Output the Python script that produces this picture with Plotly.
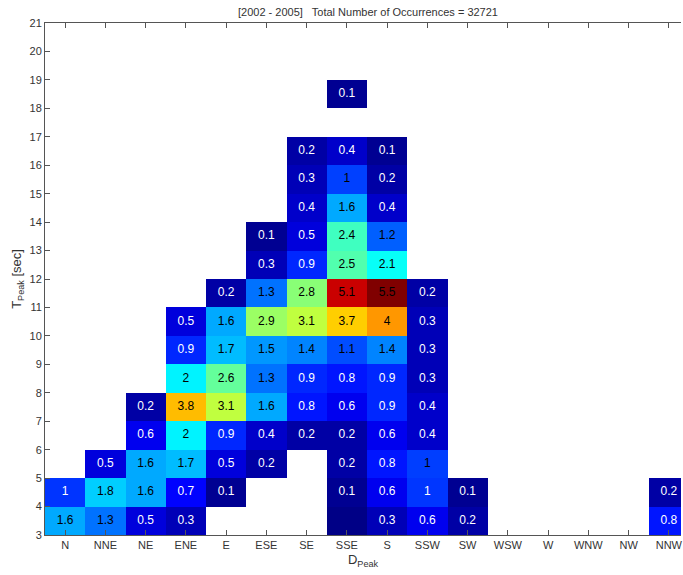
import plotly.graph_objects as go

directions = ["N", "NNE", "NE", "ENE", "E", "ESE", "SE", "SSE",
              "S", "SSW", "SW", "WSW", "W", "WNW", "NW", "NNW"]
t_bins = list(range(3, 21))  # lower edge of each T_Peak bin [sec]
y_ticks = list(range(3, 22))

_ = None
# percentage of occurrences, rows = T_Peak bins (3..20), columns = directions
pct = [
    [1.6, 1.3, 0.5, 0.3, _,   _,   _,   0.03, 0.3, 0.6,  0.2, _, _, _, _, 0.8],  # 3
    [0.97, 1.8, 1.6, 0.7, 0.1, _,  _,   0.1, 0.6, 0.98, 0.1, _, _, _, _, 0.2],  # 4
    [_,   0.5, 1.6, 1.7, 0.5, 0.2, _,   0.2, 0.8, 1.02, _,   _, _, _, _, _],    # 5
    [_,   _,   0.6, 2.0, 0.9, 0.4, 0.2, 0.2, 0.6, 0.4,  _,   _, _, _, _, _],    # 6
    [_,   _,   0.2, 3.8, 3.1, 1.6, 0.8, 0.6, 0.9, 0.4,  _,   _, _, _, _, _],    # 7
    [_,   _,   _,   2.0, 2.6, 1.3, 0.9, 0.8, 0.9, 0.3,  _,   _, _, _, _, _],    # 8
    [_,   _,   _,   0.9, 1.7, 1.5, 1.4, 1.1, 1.4, 0.3,  _,   _, _, _, _, _],    # 9
    [_,   _,   _,   0.5, 1.6, 2.9, 3.1, 3.7, 4.0, 0.3,  _,   _, _, _, _, _],    # 10
    [_,   _,   _,   _,   0.2, 1.3, 2.8, 5.1, 5.5, 0.2,  _,   _, _, _, _, _],    # 11
    [_,   _,   _,   _,   _,   0.3, 0.9, 2.5, 2.1, _,    _,   _, _, _, _, _],    # 12
    [_,   _,   _,   _,   _,   0.1, 0.5, 2.4, 1.2, _,    _,   _, _, _, _, _],    # 13
    [_,   _,   _,   _,   _,   _,   0.4, 1.6, 0.4, _,    _,   _, _, _, _, _],    # 14
    [_,   _,   _,   _,   _,   _,   0.3, 1.03, 0.2, _,   _,   _, _, _, _, _],    # 15
    [_,   _,   _,   _,   _,   _,   0.2, 0.4, 0.1, _,    _,   _, _, _, _, _],    # 16
    [_,   _,   _,   _,   _,   _,   _,   _,   _,   _,    _,   _, _, _, _, _],    # 17
    [_,   _,   _,   _,   _,   _,   _,   0.1, _,   _,    _,   _, _, _, _, _],    # 18
    [_] * 16,                                                                  # 19
    [_] * 16,                                                                  # 20
]

title_text = "[2002 - 2005]   Total Number of Occurrences = 32721"

jet = [
    [0.0, "rgb(0,0,128)"],
    [0.125, "rgb(0,0,255)"],
    [0.375, "rgb(0,255,255)"],
    [0.625, "rgb(255,255,0)"],
    [0.875, "rgb(255,0,0)"],
    [1.0, "rgb(128,0,0)"],
]

xi = list(range(len(directions)))
yc = [t + 0.5 for t in t_bins]

fig = go.Figure()
fig.add_trace(go.Heatmap(
    x=xi, y=yc, z=pct, colorscale=jet, zmin=0, zmax=5.5,
    showscale=False, hoverongaps=False,
))

tx, ty, tt, tc = [], [], [], []
for r, t in enumerate(t_bins):
    for c in xi:
        v = pct[r][c]
        if v is None:
            continue
        rv = round(v, 1)
        if rv == 0:
            continue
        tx.append(c)
        ty.append(t + 0.5)
        tt.append("%g" % rv)
        tc.append("black" if v >= 1.0 else "white")

fig.add_trace(go.Scatter(
    x=tx, y=ty, text=tt, mode="text",
    textfont=dict(family="Liberation Sans, Arial", size=12, color=tc),
    hoverinfo="skip", showlegend=False, cliponaxis=True,
))

axcol = "#555555"
fig.update_layout(
    width=683, height=575,
    margin=dict(l=45, r=0, t=23, b=40),
    paper_bgcolor="white", plot_bgcolor="white",
    font=dict(family="Liberation Sans, Arial", size=11, color="#333333"),
    title=dict(text=title_text, x=(45 + 691) / 2 / 683, xanchor="center",
               y=1 - 12 / 575, yanchor="middle",
               font=dict(size=11, color="#333333")),
    showlegend=False,
    xaxis=dict(
        range=[-0.5, 15.5 - 8 / 40.45], tickvals=xi, ticktext=directions,
        ticks="inside", ticklen=5, tickcolor=axcol, showline=True,
        linecolor=axcol, linewidth=1, mirror="ticks", showgrid=False,
        zeroline=False, title=dict(text="D<sub>Peak</sub>", standoff=4),
        ticklabeloverflow="allow", fixedrange=True,
    ),
    yaxis=dict(
        range=[3, 21], tickvals=y_ticks, ticks="inside", ticklen=5,
        tickcolor=axcol, showline=True, linecolor=axcol, linewidth=1,
        mirror=False, showgrid=False, zeroline=False,
        title=dict(text="T<sub>Peak</sub> [sec]", standoff=4),
        fixedrange=True,
    ),
)

fig.write_html(
    "out.html",
    config={"displayModeBar": False},
    post_script="document.body.style.margin='0px';"
                "document.body.style.overflow='hidden';",
)
